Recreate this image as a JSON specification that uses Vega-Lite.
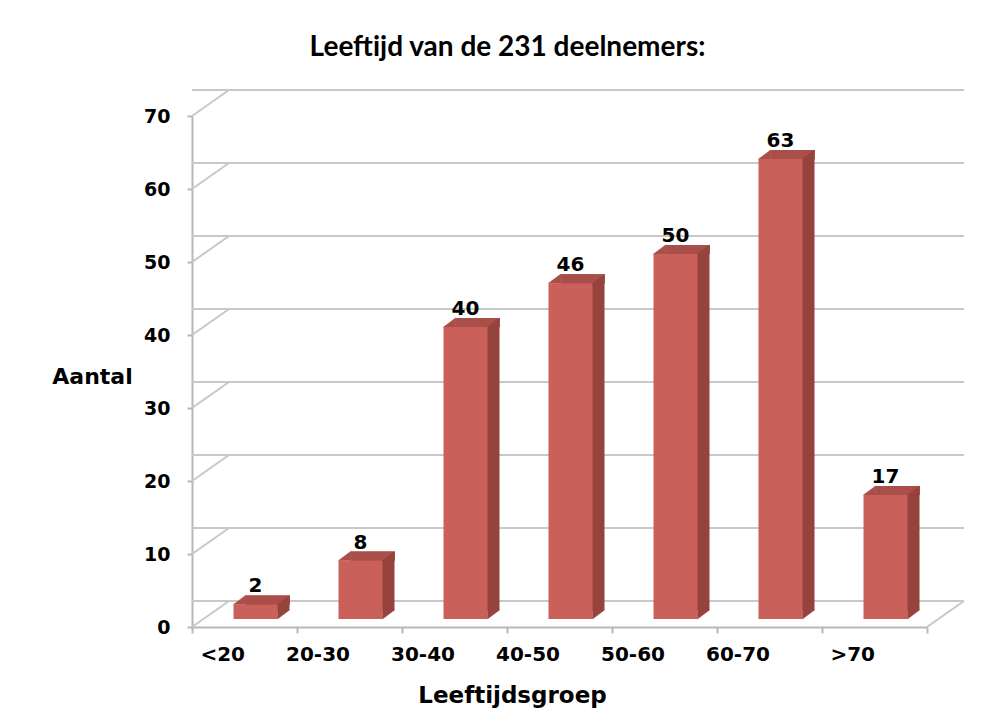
{
  "$schema": "https://vega.github.io/schema/vega-lite/v6.json",
  "width": 735,
  "height": 511,
  "autosize": "none",
  "padding": {"left": 192, "top": 116, "right": 66, "bottom": 88},
  "background": "white",
  "title": {
    "text": "Leeftijd van de 231 deelnemers:",
    "font": "Lato",
    "fontSize": 28,
    "fontWeight": "bold",
    "color": "#000000",
    "anchor": "middle",
    "dx": -52,
    "offset": 5,
    "baseline": "alphabetic"
  },
  "datasets": {
    "bars": [
      {"grp": "<20", "n": 2},
      {"grp": "20-30", "n": 8},
      {"grp": "30-40", "n": 40},
      {"grp": "40-50", "n": 46},
      {"grp": "50-60", "n": 50},
      {"grp": "60-70", "n": 63},
      {"grp": ">70", "n": 17}
    ],
    "grid": [
      {"v": 0}, {"v": 10}, {"v": 20}, {"v": 30},
      {"v": 40}, {"v": 50}, {"v": 60}, {"v": 70}
    ]
  },
  "layer": [
    {
      "data": {"name": "grid"},
      "mark": {"type": "rule", "color": "#c8c8c8", "strokeWidth": 2, "xOffset": 37, "x2Offset": 37, "yOffset": -26},
      "encoding": {
        "y": {
          "field": "v", "type": "quantitative",
          "scale": {"domain": [0, 70], "nice": false, "zero": true},
          "axis": {
            "title": "Aantal",
            "values": [0, 10, 20, 30, 40, 50, 60, 70],
            "grid": false,
            "domainColor": "#b8b8b8", "domainWidth": 2,
            "tickColor": "#b8b8b8", "tickWidth": 2, "tickSize": 5,
            "labelFont": "DejaVu Sans", "labelFontSize": 19, "labelFontWeight": "bold", "labelColor": "#000000",
            "labelPadding": 17,
            "titleFont": "DejaVu Sans", "titleFontSize": 22, "titleFontWeight": "bold", "titleColor": "#000000",
            "titleAngle": 0, "titleAlign": "center", "titleBaseline": "middle",
            "titleX": -100, "titleY": 260
          }
        }
      }
    },
    {
      "data": {"name": "grid"},
      "mark": {"type": "rule", "color": "#c8c8c8", "strokeWidth": 2, "x2Offset": 37, "y2Offset": -26},
      "encoding": {
        "x": {"datum": "<20", "bandPosition": 0},
        "x2": {"datum": "<20", "bandPosition": 0},
        "y": {"field": "v", "type": "quantitative"},
        "y2": {"field": "v"}
      }
    },
    {
      "data": {"values": [{"v": 0}]},
      "mark": {"type": "rule", "color": "#c8c8c8", "strokeWidth": 2, "x2Offset": 37, "y2Offset": -26},
      "encoding": {
        "x": {"datum": ">70", "bandPosition": 1},
        "x2": {"datum": ">70", "bandPosition": 1},
        "y": {"field": "v", "type": "quantitative"},
        "y2": {"field": "v"}
      }
    },
    {
      "data": {"name": "bars"},
      "mark": {"type": "bar", "color": "#96433e", "width": 44, "xOffset": 23, "yOffset": -17, "y2Offset": -17},
      "encoding": {
        "x": {
          "field": "grp", "type": "nominal", "sort": null,
          "scale": {"domain": ["<20", "20-30", "30-40", "40-50", "50-60", "60-70", ">70"], "paddingInner": 0, "paddingOuter": 0},
          "axis": {
            "title": "Leeftijdsgroep",
            "labelAngle": 0,
            "tickBand": "extent",
            "domainColor": "#b8b8b8", "domainWidth": 2,
            "tickColor": "#b8b8b8", "tickWidth": 2, "tickSize": 6,
            "labelFont": "DejaVu Sans", "labelFontSize": 20, "labelFontWeight": "bold", "labelColor": "#000000",
            "labelPadding": 21,
            "titleFont": "DejaVu Sans", "titleFontSize": 23, "titleFontWeight": "bold", "titleColor": "#000000",
            "titleX": 320, "titlePadding": 20
          }
        },
        "y": {"field": "n", "type": "quantitative"},
        "y2": {"datum": 0}
      }
    },
    {
      "data": {"name": "bars"},
      "mark": {"type": "bar", "color": "#a94e48", "width": 44, "xOffset": 23, "yOffset": -17, "y2Offset": -8},
      "encoding": {
        "x": {"field": "grp", "type": "nominal", "sort": null},
        "y": {"field": "n", "type": "quantitative"},
        "y2": {"field": "n"}
      }
    },
    {
      "data": {"name": "bars"},
      "mark": {"type": "point", "shape": "M-1,0.75L1,-0.75L1,0.75Z", "size": 144, "filled": true, "opacity": 1, "color": "#a94e48", "stroke": "#a94e48", "strokeWidth": 0.5, "xOffset": -5, "yOffset": -12.5},
      "encoding": {
        "x": {"field": "grp", "type": "nominal", "sort": null},
        "y": {"field": "n", "type": "quantitative"}
      }
    },
    {
      "data": {"name": "bars"},
      "mark": {"type": "point", "shape": "M-1,0.75L1,-0.75L1,0.75Z", "size": 144, "filled": true, "opacity": 1, "color": "#96433e", "stroke": "#96433e", "strokeWidth": 0.5, "xOffset": 39, "yOffset": -12.5},
      "encoding": {
        "x": {"field": "grp", "type": "nominal", "sort": null},
        "y": {"field": "n", "type": "quantitative"}
      }
    },
    {
      "data": {"name": "bars"},
      "mark": {"type": "point", "shape": "M-1,-0.75L1,-0.75L-1,0.75Z", "size": 144, "filled": true, "opacity": 1, "color": "#96433e", "stroke": "#96433e", "strokeWidth": 0.5, "xOffset": 39, "yOffset": -12.5},
      "encoding": {
        "x": {"field": "grp", "type": "nominal", "sort": null},
        "y": {"datum": 0}
      }
    },
    {
      "data": {"name": "bars"},
      "mark": {"type": "bar", "color": "#c9605a", "width": 44, "xOffset": 11, "yOffset": -8, "y2Offset": -8},
      "encoding": {
        "x": {"field": "grp", "type": "nominal", "sort": null},
        "y": {"field": "n", "type": "quantitative"},
        "y2": {"datum": 0}
      }
    },
    {
      "data": {"name": "bars"},
      "mark": {"type": "text", "font": "DejaVu Sans", "fontSize": 20, "fontWeight": "bold", "color": "#000000", "baseline": "alphabetic", "dx": 11, "dy": -20},
      "encoding": {
        "x": {"field": "grp", "type": "nominal", "sort": null},
        "y": {"field": "n", "type": "quantitative"},
        "text": {"field": "n", "type": "quantitative"}
      }
    }
  ],
  "config": {
    "view": {"stroke": null}
  }
}
